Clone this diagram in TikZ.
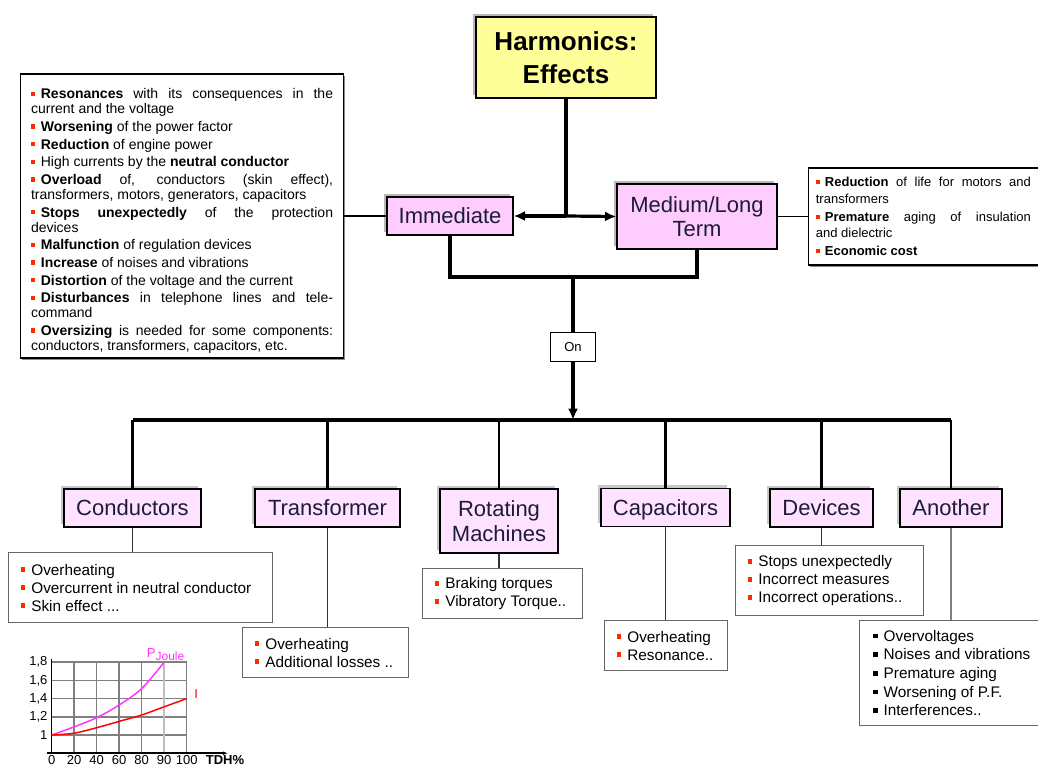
\documentclass[tikz,border=0pt]{standalone}
\usepackage{fontspec}
\setmainfont{Liberation Sans}
\usetikzlibrary{arrows.meta, positioning, shadows}

\definecolor{headyellow}{HTML}{FFFF99}
\definecolor{termpink}{HTML}{FFCCFF}
\definecolor{catpink}{HTML}{FFE2FF}
\definecolor{ink}{HTML}{1C1C3A}
\definecolor{bulred}{HTML}{FF2A00}
\definecolor{joulepink}{HTML}{FF33FF}

\newcommand{\bul}{{\color{bulred}\rule[0.2em]{0.3em}{0.3em}}\hspace{0.4em}}
\newcommand{\blkbul}{\rule[0.2em]{0.3em}{0.3em}\hspace{0.4em}}
\newcommand{\fullline}[2]{\makebox[#1][s]{\spaceskip=0.28em plus 1fil\relax #2}}

\begin{document}
\begin{tikzpicture}[x=0.75pt, y=-0.75pt,
    head/.style={draw, line width=1pt, fill=headyellow, align=center, font=\fontsize{19.5}{24.75}\selectfont\bfseries,
        minimum width=135pt, minimum height=60.75pt, general shadow={fill=black!28, shadow xshift=-2.5pt, shadow yshift=2.5pt}},
    term/.style={draw, line width=1pt, fill=termpink, align=center, text=ink, font=\fontsize{16.5}{18}\selectfont,
        general shadow={fill=black!28, shadow xshift=-2.5pt, shadow yshift=2.5pt}},
    cat/.style={draw, line width=1pt, fill=catpink, align=center, text=ink, font=\fontsize{16.5}{18.75}\selectfont,
        minimum height=28.5pt, general shadow={fill=black!22, shadow xshift=-2pt, shadow yshift=2.5pt}},
    oneline/.style={text height=11.8pt, text depth=0pt},
    listbox/.style={draw, line width=1.1pt, fill=white, align=left, inner ysep=2pt,
        execute at begin node={\spaceskip=0pt\xspaceskip=0pt},
        general shadow={fill=black!45, shadow xshift=1.2pt, shadow yshift=-1.2pt}},
    detail/.style={draw=black!60, line width=0.9pt, fill=white, anchor=north west, align=left, inner xsep=9pt,
        execute at begin node={\spaceskip=0pt\xspaceskip=0pt}, font=\fontsize{11.5}{13.5}\selectfont},
    onbox/.style={draw, line width=1pt, fill=white, font=\fontsize{9.75}{11}\selectfont, minimum width=33.75pt, minimum height=21.75pt},
    wire/.style={line width=2.4pt},
    arrow/.style={-{Latex[length=8.5pt, width=7.5pt]}, line width=2.4pt},
    drop/.style={line width=1.7pt},
    stem/.style={line width=1.1pt, draw=black!80}
]
\useasboundingbox (0,0) rectangle (1038,771);

% top of the tree
\node[head] (title) at (566,57.5) {Harmonics:\\Effects};
\node[term, oneline, minimum width=94.5pt, minimum height=28.5pt] (imm) at (450,216) {Immediate};
\node[term, minimum width=120pt, minimum height=48.75pt] (med) at (697,216.5) {Medium/Long\\Term};

\coordinate (jn) at (title.south |- imm.east);
\draw[wire] (title.south) -- (jn);
\draw[arrow] (jn) -- (imm.east);
\draw[arrow] (jn) -- (med.west);

% effects lists
\node[listbox, left=31.5pt of imm, text width=226.5pt, minimum height=213pt, inner xsep=7.9pt,
    font=\fontsize{10.5}{11.25}\selectfont] (immlist) {%
\fullline{226.5pt}{\rule{0pt}{15pt}\bul\textbf{Resonances} with its consequences in the}\\
current and the voltage\\[2pt]
\bul\textbf{Worsening} of the power factor\\[2pt]
\bul\textbf{Reduction} of engine power\\[2pt]
\bul High currents by the \textbf{neutral conductor}\\[2pt]
\fullline{226.5pt}{\bul\textbf{Overload} of, conductors (skin effect),}\\
transformers, motors, generators, capacitors\\[2pt]
\fullline{226.5pt}{\bul\textbf{Stops unexpectedly} of the protection}\\
devices\\[2pt]
\bul\textbf{Malfunction} of regulation devices\\[2pt]
\bul\textbf{Increase} of noises and vibrations\\[2pt]
\bul\textbf{Distortion} of the voltage and the current\\[2pt]
\fullline{226.5pt}{\bul\textbf{Disturbances} in telephone lines and tele-}\\
command\\[2pt]
\fullline{226.5pt}{\bul\textbf{Oversizing} is needed for some components:}\\
conductors, transformers, capacitors, etc.};

\node[listbox, right=22.5pt of med, text width=161.25pt, minimum height=72.75pt, inner xsep=5.6pt,
    font=\fontsize{9.75}{12.4}\selectfont] (medlist) {%
\fullline{161.25pt}{\bul\textbf{Reduction} of life for motors and}\\
transformers\\[1pt]
\fullline{161.25pt}{\bul\textbf{Premature} aging of insulation}\\
and dielectric\\[1pt]
\bul\textbf{Economic cost}};

\draw[stem, draw=black] (imm.west) -- (immlist.east);
\draw[stem, draw=black] (med.east) -- (medlist.west);

% joining both terms
\coordinate (lp) at (573,277);
\draw[wire] (imm.south) |- (lp) -| (med.south);
\node[onbox, below=41.25pt of lp] (on) {On};
\coordinate (bus) at (573,420);
\draw[wire] (lp) -- (on.north);
\draw[arrow] (on.south) -- (bus);

% where the effects show
\node[cat, oneline, minimum width=102.75pt] (cond) at (132.5,508) {Conductors};
\node[cat, oneline, minimum width=108.75pt] (trans) at (327.5,508) {Transformer};
\node[cat, minimum width=88.5pt, minimum height=48pt] (rot) at (499,521) {Rotating\\Machines};
\node[cat, oneline, minimum width=96.75pt] (capa) at (665.5,507.5) {Capacitors};
\node[cat, oneline, minimum width=77.25pt] (dev) at (821.5,508) {Devices};
\node[cat, oneline, minimum width=76.5pt] (other) at (951,508) {Another};

\draw[wire] (cond.north |- bus) -- (other.north |- bus);
\draw[drop] (cond.north |- bus) -- (cond.north);
\draw[drop] (trans.north |- bus) -- (trans.north);
\draw[drop] (rot.north |- bus) -- (rot.north);
\draw[drop] (capa.north |- bus) -- (capa.north);
\draw[drop] (dev.north |- bus) -- (dev.north);
\draw[drop] (other.north |- bus) -- (other.north);

\node[detail, text width=180pt, minimum height=52.5pt] (conddet) at (8,552)
    {\bul Overheating\\ \bul Overcurrent in neutral conductor\\ \bul Skin effect ...};
\node[detail, text width=106.5pt, minimum height=37.5pt] (transdet) at (242,627)
    {\bul Overheating\\ \bul Additional losses ..};
\node[detail, text width=102pt, minimum height=37.5pt] (rotdet) at (422,568)
    {\bul Braking torques\\ \bul Vibratory Torque..};
\node[detail, text width=74.25pt, minimum height=37.5pt] (capadet) at (604,620)
    {\bul Overheating\\ \bul Resonance..};
\node[detail, text width=123pt, minimum height=52.5pt] (devdet) at (735,545)
    {\bul Stops unexpectedly\\ \bul Incorrect measures\\ \bul Incorrect operations..};
\node[detail, text width=120pt, minimum height=78.75pt, inner xsep=10pt, font=\fontsize{11.5}{14}\selectfont] (otherdet) at (859,620)
    {\blkbul Overvoltages\\ \blkbul Noises and vibrations\\ \blkbul Premature aging\\ \blkbul Worsening of P.F.\\ \blkbul Interferences..};

\draw[stem] (cond.south) -- (cond.south |- conddet.north);
\draw[stem] (trans.south) -- (trans.south |- transdet.north);
\draw[stem] (rot.south) -- (rot.south |- rotdet.north);
\draw[stem] (capa.south) -- (capa.south |- capadet.north);
\draw[stem] (dev.south) -- (dev.south |- devdet.north);
\draw[stem, draw=black!50] (other.south) -- (other.south |- otherdet.north);

% small chart of losses against TDH
\begin{scope}[shift={(51.7,753.2)}, x=16.875pt, y=68.25pt, font=\fontsize{9.75}{11}\selectfont]
\draw[black!50, line width=1.1pt, xstep=1, ystep=0.2] (0,0) grid (6,1);
\draw[black!25, line width=1.1pt] (5,0) -- (5,1);
\draw[line width=1.1pt] (0,0) -- (0,1.03);
\draw[line width=1.1pt, -{Latex[length=4pt, width=3pt]}] (-0.22,0) -- (7.84,0);
\draw[joulepink, line width=1.1pt] plot[smooth] coordinates {(0,0.2) (1,0.29) (2,0.39) (3,0.53) (4,0.71) (5,1.0)};
\draw[red, line width=1.1pt] plot[smooth] coordinates {(0,0.2) (1,0.22) (2,0.28) (3,0.35) (4,0.42) (5,0.51) (6,0.6)};
\node[anchor=base west, text=joulepink, inner sep=0pt] (pj) at (4.22,1.05) {P\raisebox{-0.35ex}{\fontsize{9}{9}\selectfont Joule}};
\node[anchor=base west, text=red, inner sep=0pt] (ic) at (6.33,0.6) {I};
\node[below, inner sep=1.5pt] (t0) at (0,0) {0};
\node[below, inner sep=1.5pt] (t1) at (1,0) {20};
\node[below, inner sep=1.5pt] (t2) at (2,0) {40};
\node[below, inner sep=1.5pt] (t3) at (3,0) {60};
\node[below, inner sep=1.5pt] (t4) at (4,0) {80};
\node[below, inner sep=1.5pt] (t5) at (5,0) {90};
\node[below, inner sep=1.5pt] (t6) at (6,0) {100};
\node[below, inner sep=1.5pt, font=\fontsize{9.75}{11}\selectfont\bfseries] (tdh) at (7.7,0) {TDH\%};
\node[left, inner sep=3pt] (v1) at (0,0.2) {1};
\node[left, inner sep=3pt] (v2) at (0,0.4) {1,2};
\node[left, inner sep=3pt] (v3) at (0,0.6) {1,4};
\node[left, inner sep=3pt] (v4) at (0,0.8) {1,6};
\node[left, inner sep=3pt] (v5) at (0,1.0) {1,8};
\end{scope}
\end{tikzpicture}
\end{document}
